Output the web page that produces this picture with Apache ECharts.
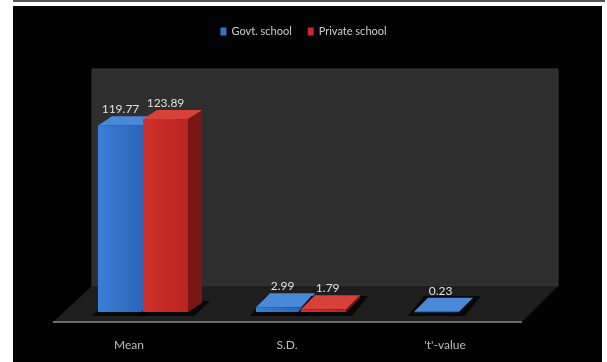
<!DOCTYPE html>
<html><head><meta charset="utf-8">
<script src="https://cdn.jsdelivr.net/npm/echarts@6/dist/echarts.min.js"></script>
<style>html,body{margin:0;padding:0;background:#fff;}#c{width:607px;height:362px;}</style>
</head><body><div id="c"></div>
<script>
const categories = ['Mean', 'S.D.', "'t'-value"];
const seriesNames = ['Govt. school', 'Private school'];
const govtValues = [119.77, 2.99, 0.23];
const privateValues = [123.89, 1.79, null];

const chart = echarts.init(document.getElementById('c'));
const DX = 14, BAR_FRAC = 0.285;
const palettes = [
  {front: ['#3a7fd6', '#2c66b8'], side: '#1d4a8c', top: '#4a88d8', legend: '#3273c8'},
  {front: ['#d0302c', '#b92422'], side: '#7a1616', top: '#d8403a', legend: '#c8282a'}
];

function depthY(yt) {
  const t = Math.min(Math.max((yt - 118) / 190, 0), 1);
  return -(9 + 5 * t);
}

function makeRender(idx) {
  const p = palettes[idx];
  return function (params, api) {
    const cat = api.value(0), val = api.value(1);
    const base = api.coord([cat, 0]);
    const top = api.coord([cat, val]);
    const band = api.size([1, 0])[0];
    const w = band * BAR_FRAC;
    const x0 = base[0] + (idx === 0 ? -w : 0);
    const x1 = x0 + w;
    const yb = base[1], yt = top[1];
    const DY = depthY(yt);
    return {
      type: 'group',
      children: [
        {type: 'polygon', shape: {points: [[x0 - 6, yb + 4], [x1 + 6, yb + 4], [x1 + DX + 8, yb + DY - 2], [x0 + DX - 4, yb + DY - 2]]}, style: {fill: 'rgba(0,0,0,0.75)'}},
        {type: 'polygon', shape: {points: [[x1, yb], [x1 + DX, yb + DY], [x1 + DX, yt + DY], [x1, yt]]}, style: {fill: p.side}},
        {type: 'polygon', shape: {points: [[x0, yt], [x1, yt], [x1 + DX, yt + DY], [x0 + DX, yt + DY]]}, style: {fill: p.top}},
        {type: 'rect', shape: {x: x0, y: yt, width: w, height: Math.max(yb - yt, 0.5)},
          style: {fill: new echarts.graphic.LinearGradient(0, 0, 1, 0, [{offset: 0, color: p.front[0]}, {offset: 1, color: p.front[1]}])}},
        {type: 'text', x: x0 + w / 2 + (yb - yt < 20 ? DX * 0.3 : 0), y: yt + DY - 1,
          style: {text: val.toFixed(2), fill: '#e0e0e0', font: '12px Lato', align: 'center', verticalAlign: 'bottom'}}
      ]
    };
  };
}

function toData(arr) {
  const out = [];
  arr.forEach((v, i) => { if (v !== null && v !== undefined) out.push([i, v]); });
  return out;
}

chart.setOption({
  backgroundColor: '#fff',
  animation: false,
  graphic: [
    {type: 'rect', shape: {x: 13, y: 0, width: 592, height: 2}, style: {fill: '#555'}, z: -10},
    {type: 'rect', shape: {x: 13, y: 6, width: 589, height: 356}, style: {fill: '#020202'}, z: -10},
    {type: 'rect', shape: {x: 92, y: 69, width: 466, height: 217}, style: {fill: '#2e2e2e', stroke: '#383838', lineWidth: 1}, z: -9},
    {type: 'polygon', shape: {points: [[92, 286], [558, 286], [522, 322], [53, 322]]}, style: {fill: '#1e1e1e'}, z: -9},
    {type: 'line', shape: {x1: 53, y1: 322, x2: 522, y2: 322}, style: {stroke: '#6a6a6a', lineWidth: 2}, z: -8}
  ],
  legend: {
    top: 21, left: 'center', icon: 'rect', itemWidth: 6, itemHeight: 8, itemGap: 16,
    textStyle: {color: '#cfcfcf', fontSize: 11, fontFamily: 'Lato'},
    data: seriesNames
  },
  grid: {left: 64, right: 69, top: 94, bottom: 50},
  xAxis: {
    type: 'category', data: categories,
    axisLine: {show: false}, axisTick: {show: false}, splitLine: {show: false},
    axisLabel: {color: '#bdbdbd', fontSize: 12, fontFamily: 'Lato', margin: 27, padding: [0, 28, 0, 0]}
  },
  yAxis: {type: 'value', min: 0, max: 140, show: false, splitLine: {show: false}},
  series: [
    {name: seriesNames[0], type: 'custom', renderItem: makeRender(0), itemStyle: {color: palettes[0].legend}, encode: {x: 0, y: 1}, data: toData(govtValues), z: 2},
    {name: seriesNames[1], type: 'custom', renderItem: makeRender(1), itemStyle: {color: palettes[1].legend}, encode: {x: 0, y: 1}, data: toData(privateValues), z: 3}
  ]
});
</script></body></html>
